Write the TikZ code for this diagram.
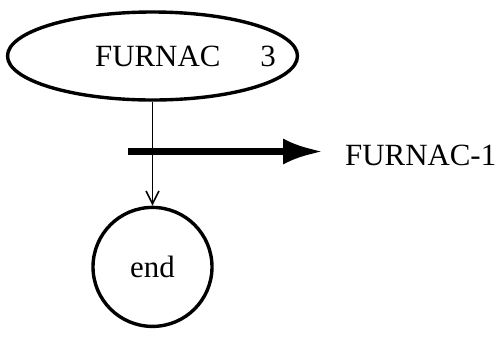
\documentclass[tikz,border=0pt]{standalone}
\usepackage{fontspec}
\setmainfont{Liberation Serif}
\usetikzlibrary{arrows.meta, positioning, shapes.geometric}
\tikzset{
  statenode/.style={ellipse, draw, line width=3.4bp, minimum width=290bp,
                    minimum height=88bp, inner sep=0pt,
                    font=\fontsize{31}{37}\selectfont},
  endnode/.style={circle, draw, line width=3.4bp, minimum size=119bp,
                  inner sep=0pt, font=\fontsize{31}{37}\selectfont},
  outlabel/.style={inner sep=0pt, font=\fontsize{31}{37}\selectfont},
  flowarr/.style={-{Straight Barb[length=13bp, width=13bp]}, line width=1.6bp},
  outarr/.style={-{Latex[length=40bp, width=26bp]}, line width=6.8bp},
}

\begin{document}
\begin{tikzpicture}[x=1bp, y=-1bp]
      \useasboundingbox (0,0) rectangle (504,337);

      \node[statenode,
            label={[outlabel, xshift=33bp]center:FURNAC\hspace{40bp}3}]
           (furnac) at (152.5,56) {};

      \node[endnode, below=104bp of furnac] (finish) {end};

      \coordinate (tap) at (128,151.5);
      \node[outlabel, anchor=west] (furnacout) at (345,155) {FURNAC-1};

      \draw[flowarr] (furnac.south) -- (finish.north);
      \draw[outarr, shorten >=22bp] (tap) -- (tap -| furnacout.west);
    \end{tikzpicture}
\end{document}
